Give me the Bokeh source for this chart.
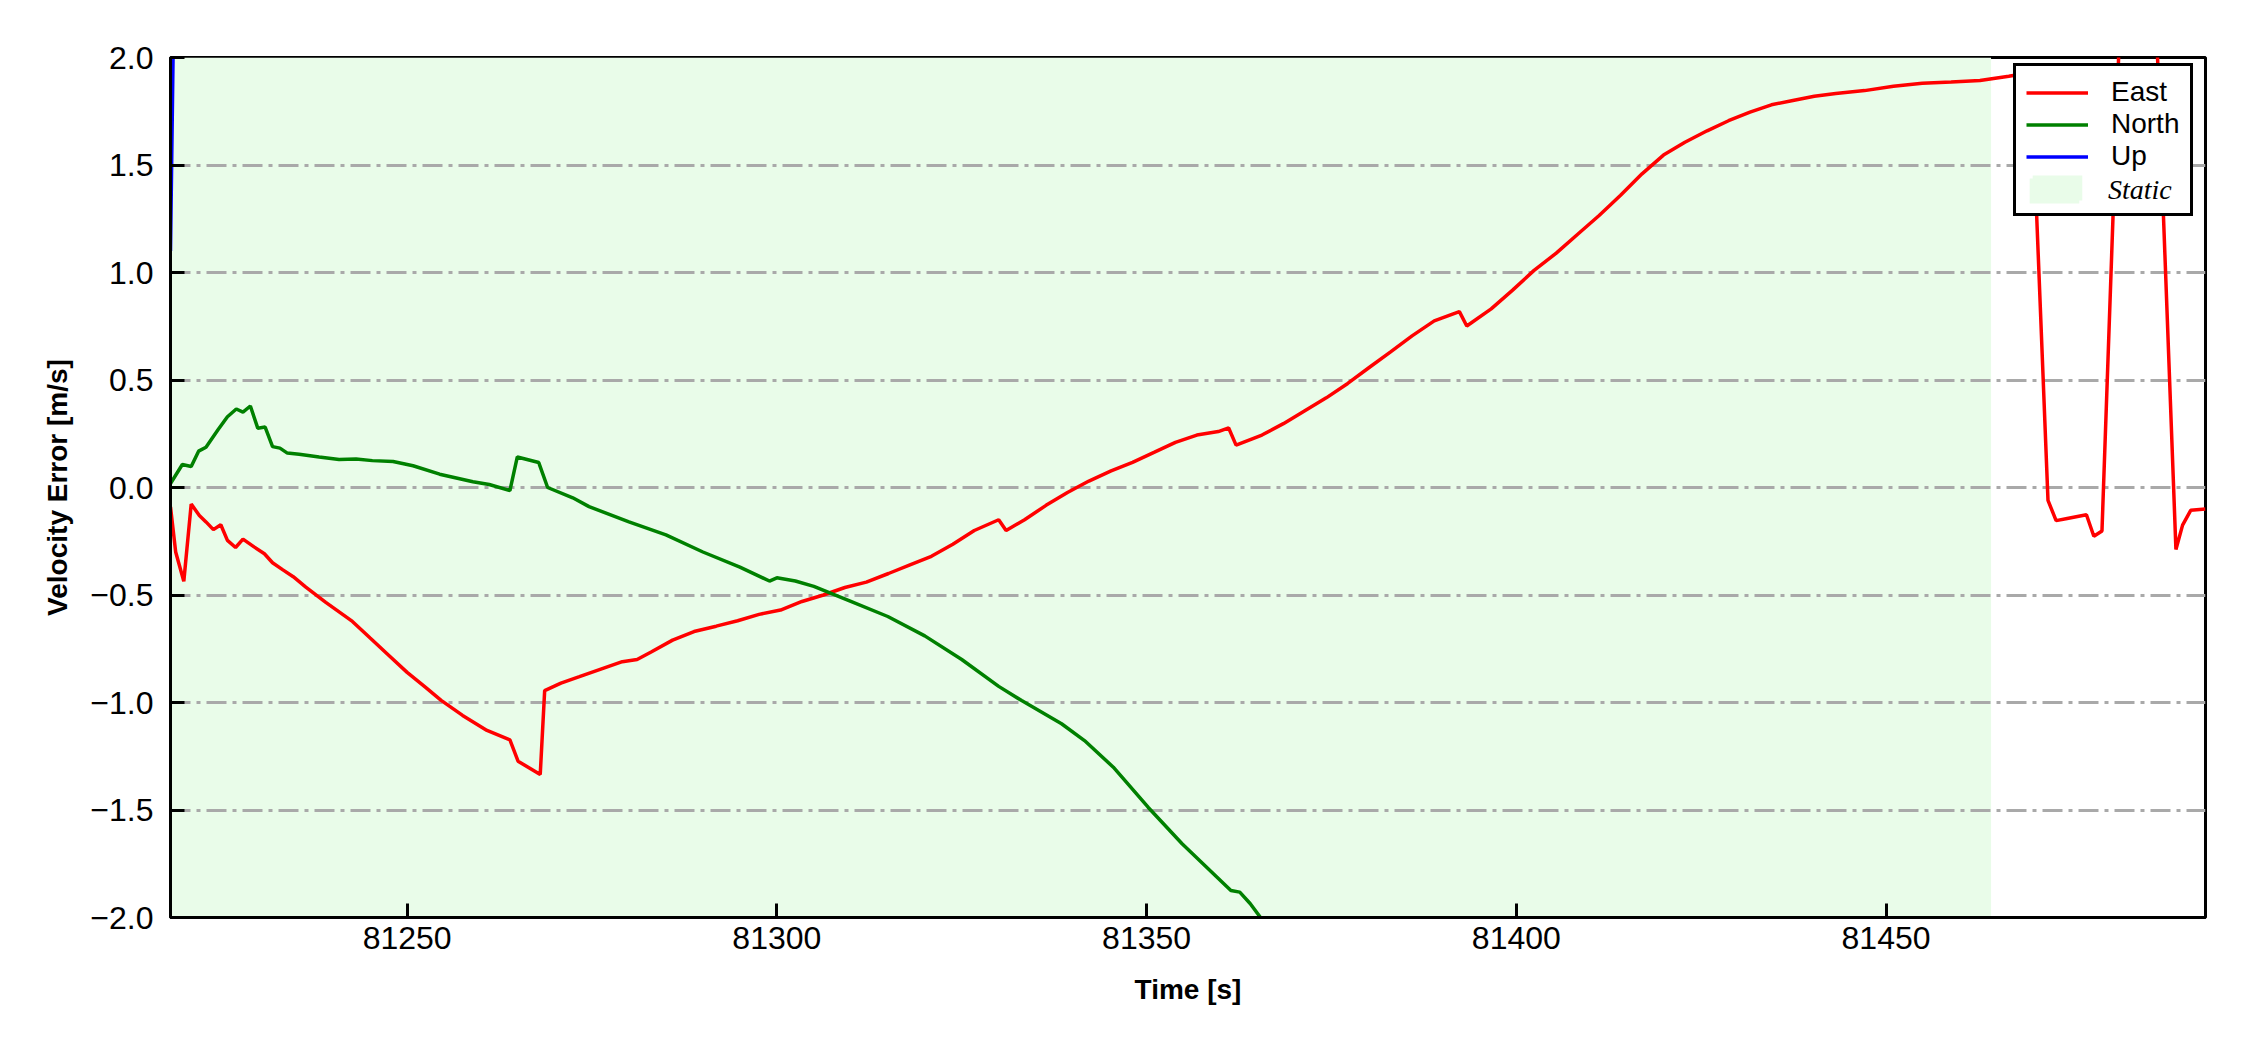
from bokeh.plotting import figure
from bokeh.models import (Legend, LegendItem, FixedTicker,
                          CustomJSTickFormatter, Range1d)
from bokeh.embed import file_html
from bokeh.resources import INLINE

# ---------------- data ----------------
EAST_T = [81218.0, 81218.7, 81219.8, 81220.8, 81221.9, 81222.8, 81223.8, 81224.8,
          81225.7, 81226.8, 81227.8, 81229.3, 81230.7, 81231.8, 81233.2, 81234.6,
          81236.3, 81239.0, 81242.6, 81245.0, 81247.5, 81250.0, 81252.5, 81254.6,
          81257.5, 81260.8, 81263.9, 81265.0, 81268.0, 81268.6, 81270.8, 81273.3,
          81276.2, 81279.1, 81281.1, 81283.0, 81285.9, 81288.8, 81291.8, 81294.7,
          81297.6, 81300.5, 81303.4, 81306.3, 81309.2, 81312.1, 81315.1, 81318.0,
          81320.9, 81323.8, 81326.7, 81330.0, 81331.0, 81333.5, 81336.4, 81339.3,
          81342.2, 81345.2, 81348.1, 81351.0, 81353.9, 81356.8, 81359.7, 81361.1,
          81362.1, 81365.6, 81368.5, 81371.4, 81374.3, 81377.2, 81380.1, 81383.0,
          81385.9, 81388.9, 81392.3, 81393.3, 81396.6, 81399.5, 81402.4, 81405.4,
          81408.3, 81411.2, 81414.1, 81417.0, 81419.9, 81422.8, 81425.8, 81428.7,
          81431.6, 81434.5, 81437.4, 81440.3, 81443.2, 81447.1, 81451.0, 81454.9,
          81458.8, 81462.7, 81466.6, 81469.6, 81471.9, 81473.0, 81474.5, 81477.1,
          81478.1, 81479.2, 81484.0, 81489.2, 81490.1, 81491.2, 81493.2]
EAST_V = [-0.09, -0.30, -0.436, -0.077, -0.13, -0.16, -0.196, -0.173,
          -0.246, -0.279, -0.24, -0.276, -0.308, -0.35, -0.383, -0.415,
          -0.463, -0.534, -0.623, -0.70, -0.78, -0.86, -0.93, -0.99,
          -1.06, -1.13, -1.174, -1.273, -1.335, -0.945, -0.91, -0.88,
          -0.845, -0.81, -0.80, -0.765, -0.71, -0.67, -0.645, -0.62,
          -0.59, -0.57, -0.53, -0.50, -0.465, -0.44, -0.40, -0.36,
          -0.32, -0.264, -0.20, -0.15, -0.20, -0.15, -0.083, -0.023,
          0.03, 0.077, 0.117, 0.163, 0.21, 0.244, 0.26, 0.277,
          0.197, 0.244, 0.297, 0.357, 0.417, 0.484, 0.558, 0.631,
          0.705, 0.775, 0.818, 0.751, 0.831, 0.918, 1.01, 1.09,
          1.178, 1.265, 1.359, 1.459, 1.546, 1.606, 1.659, 1.706,
          1.746, 1.780, 1.80, 1.82, 1.833, 1.846, 1.866, 1.88,
          1.886, 1.893, 1.913, 1.93, -0.06, -0.154, -0.144, -0.127,
          -0.227, -0.202, 4.5, -0.288, -0.175, -0.106, -0.10]

NORTH_T = [81218.0, 81219.6, 81220.8, 81221.8, 81222.8, 81224.4, 81225.7, 81226.9,
           81227.8, 81228.8, 81229.8, 81230.8, 81231.8, 81232.8, 81233.8, 81235.4,
           81238.1, 81240.8, 81243.1, 81245.3, 81248.1, 81250.8, 81254.4, 81258.9,
           81261.1, 81263.9, 81264.9, 81267.8, 81269.0, 81272.4, 81274.6, 81280.0,
           81285.0, 81290.0, 81295.0, 81299.0, 81300.0, 81302.5, 81305.0, 81310.0,
           81315.0, 81320.0, 81325.0, 81330.0, 81333.1, 81338.5, 81341.6, 81345.5,
           81350.2, 81354.8, 81361.4, 81362.6, 81364.0, 81368.0, 81372.0]
NORTH_V = [0.018, 0.107, 0.098, 0.169, 0.187, 0.267, 0.329, 0.365,
           0.351, 0.379, 0.276, 0.281, 0.190, 0.183, 0.160, 0.155,
           0.142, 0.130, 0.133, 0.125, 0.121, 0.101, 0.062, 0.027,
           0.014, -0.014, 0.142, 0.116, 0.0, -0.048, -0.089, -0.16,
           -0.22, -0.30, -0.37, -0.435, -0.42, -0.435, -0.46, -0.53,
           -0.60, -0.69, -0.80, -0.925, -0.991, -1.099, -1.177, -1.301,
           -1.487, -1.657, -1.874, -1.882, -1.935, -2.12, -2.30]

UP_T = [81218.0, 81219.0, 81225.0]
UP_V = [1.10, 3.70, 4.50]

STATIC_START = [81218.0]
STATIC_END = [81464.2]

X_MIN, X_MAX = 81218.0, 81493.2
Y_MIN, Y_MAX = -2.0, 2.0
X_TICKS = [81250, 81300, 81350, 81400, 81450]
Y_TICKS = [-2.0, -1.5, -1.0, -0.5, 0.0, 0.5, 1.0, 1.5, 2.0]

SERIES_NAMES = ["East", "North", "Up"]
SERIES_COLORS = ["#ff0000", "#008000", "#0000ff"]
STATIC_LABEL = "Static"
STATIC_COLOR = "#e9fce9"

# ---------------- figure ----------------
FRAME_LEFT, FRAME_RIGHT, FRAME_TOP, FRAME_BOTTOM = 170, 37, 57, 125
W, H = 170 + 2035 + 37, 57 + 860 + 125

p = figure(width=W, height=H, output_backend="svg", toolbar_location=None,
           x_range=Range1d(X_MIN, X_MAX), y_range=Range1d(Y_MIN, Y_MAX),
           min_border_left=FRAME_LEFT, min_border_right=FRAME_RIGHT,
           min_border_top=FRAME_TOP, min_border_bottom=FRAME_BOTTOM,
           background_fill_color="white", border_fill_color="white")

p.outline_line_color = "black"
p.outline_line_width = 3

# grid
p.xgrid.visible = False
p.ygrid.grid_line_color = "#a9a9a9"
p.ygrid.grid_line_width = 3
p.ygrid.grid_line_dash = "20 6 4 6"

# axes
p.xaxis.ticker = FixedTicker(ticks=X_TICKS)
p.yaxis.ticker = FixedTicker(ticks=Y_TICKS)
p.xaxis.formatter = CustomJSTickFormatter(code="return tick.toFixed(0);")
p.yaxis.formatter = CustomJSTickFormatter(
    code="const v = Math.abs(tick) < 1e-9 ? 0 : tick; return (v < 0 ? '\\u2212' : '') + Math.abs(v).toFixed(1);")
for ax in (p.xaxis[0], p.yaxis[0]):
    ax.axis_line_color = "black"
    ax.axis_line_width = 3
    ax.major_tick_in = 14
    ax.major_tick_out = 0
    ax.major_tick_line_width = 3
    ax.major_tick_line_color = "black"
    ax.minor_tick_line_color = None
    ax.major_label_text_font = "Liberation Sans"
    ax.major_label_text_font_size = "32px"
    ax.major_label_text_color = "black"
    ax.axis_label_text_font = "Liberation Sans"
    ax.axis_label_text_font_style = "bold"
    ax.axis_label_text_font_size = "28px"
    ax.axis_label_text_color = "black"

p.xaxis.axis_label = "Time [s]"
p.yaxis.axis_label = "Velocity Error [m/s]"
p.xaxis.major_label_standoff = 9
p.xaxis.axis_label_standoff = 22
p.yaxis.major_label_standoff = 17
p.yaxis.axis_label_standoff = 14

# static shading
r_static = p.quad(left=STATIC_START, right=STATIC_END, bottom=[Y_MIN], top=[Y_MAX],
                  fill_color=STATIC_COLOR, line_alpha=0, level="image")

# series
LW = 3.5
r_e = p.line(EAST_T, EAST_V, line_color=SERIES_COLORS[0], line_width=LW)
r_n = p.line(NORTH_T, NORTH_V, line_color=SERIES_COLORS[1], line_width=LW)
r_u = p.line(UP_T, UP_V, line_color=SERIES_COLORS[2], line_width=LW)

# legend: boxed legend with all four entries, then an overlay legend that
# writes the "Static" entry in an italic serif face on the fourth row
LEG_X, LEG_Y = 1843, 701
PAD, GW, GH, LSTAND = 10, 62, 31, 23
common = dict(orientation="vertical", padding=PAD, margin=0, spacing=0,
              glyph_width=GW, glyph_height=GH, label_height=GH, label_width=69,
              label_standoff=LSTAND)

legend_main = Legend(items=[LegendItem(label=SERIES_NAMES[0], renderers=[r_e]),
                            LegendItem(label=SERIES_NAMES[1], renderers=[r_n]),
                            LegendItem(label=SERIES_NAMES[2], renderers=[r_u]),
                            LegendItem(label=" ", renderers=[r_static])],
                     location=(LEG_X, LEG_Y),
                     label_text_font="Liberation Sans", label_text_font_size="28px",
                     label_text_color="black",
                     border_line_color="black", border_line_width=3, border_line_alpha=1.0,
                     background_fill_color="white", background_fill_alpha=1.0,
                     **common)
p.add_layout(legend_main)

legend_static = Legend(items=[LegendItem(label=STATIC_LABEL, renderers=[r_static])],
                       location=(LEG_X, LEG_Y),
                       label_text_font="Liberation Serif", label_text_font_style="italic",
                       label_text_font_size="28px", label_text_color="black",
                       border_line_alpha=0, background_fill_alpha=0,
                       **common)
p.add_layout(legend_static)

open("out.html", "w").write(file_html(p, INLINE))
